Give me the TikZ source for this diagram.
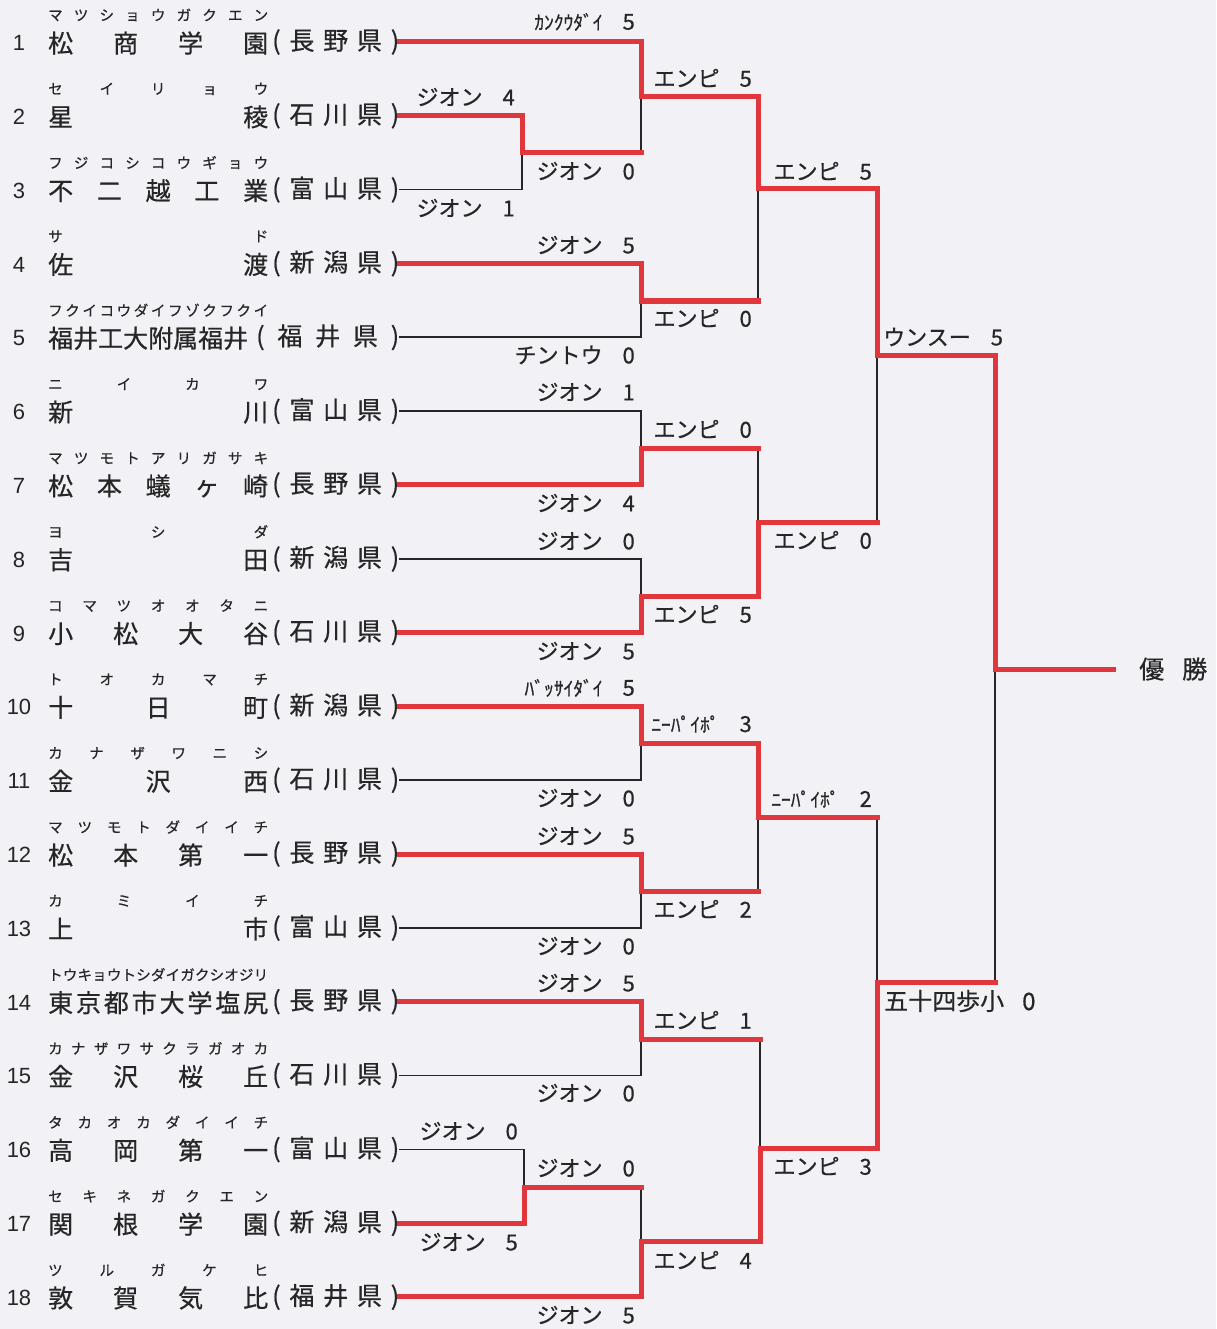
\documentclass[tikz,border=0pt]{standalone}
\usepackage{fontspec}
\setmainfont{Noto Sans CJK JP}[FakeBold=0.6]
\newfontfamily\numfont{Liberation Sans}
\definecolor{paper}{HTML}{F2F1F5}
\definecolor{winred}{HTML}{E0373D}
\definecolor{inkgray}{HTML}{262626}
% spread the letters of a word evenly over a fixed width
\def\spreadhead#1{#1\spreadrest}
\def\spreadrest#1{\ifx#1\relax\else\hfill#1\expandafter\spreadrest\fi}
\newcommand\spreadbox[2]{\edef\spreadtmp{#2}\hbox to #1{\expandafter\spreadhead\spreadtmp\relax}}
% half-width school names in the scores
\newcommand\hw[1]{{\fontsize{19.5}{19.5}\selectfont #1}}

\begin{document}
\begin{tikzpicture}[x=1pt, y=-1pt,
  loser/.style={draw=inkgray, line width=1.6pt},
  winner/.style={draw=winred, line width=5pt, line cap=rect},
  teamnum/.style={inkgray, inner sep=0pt, font=\numfont\fontsize{22}{22}\selectfont},
  rubytext/.style={inkgray, inner sep=0pt, anchor=west, font=\fontsize{14.5}{14.5}\selectfont},
  nametext/.style={inkgray, inner sep=0pt, anchor=west, font=\fontsize{25}{25}\selectfont},
  score/.style={inkgray, inner sep=0pt, anchor=east, font=\fontsize{22}{22}\selectfont}]
  \useasboundingbox (0,0) rectangle (1216,1329);
  \fill[paper] (0,0) rectangle (1216,1329);

  % Teams: number, reading, name, prefecture
  \foreach \i/\nm/\rb/\pf/\nw/\px in {1/松商学園/マツショウガクエン/長野県/220/272,2/星稜/セイリョウ/石川県/220/272,3/不二越工業/フジコシコウギョウ/富山県/220/272,4/佐渡/サド/新潟県/220/272,5/福井工大附属福井/フクイコウダイフゾクフクイ/福井県/200/256,6/新川/ニイカワ/富山県/220/272,7/松本蟻ヶ崎/マツモトアリガサキ/長野県/220/272,8/吉田/ヨシダ/新潟県/220/272,9/小松大谷/コマツオオタニ/石川県/220/272,10/十日町/トオカマチ/新潟県/220/272,11/金沢西/カナザワニシ/石川県/220/272,12/松本第一/マツモトダイイチ/長野県/220/272,13/上市/カミイチ/富山県/220/272,14/東京都市大学塩尻/トウキョウトシダイガクシオジリ/長野県/220/272,15/金沢桜丘/カナザワサクラガオカ/石川県/220/272,16/高岡第一/タカオカダイイチ/富山県/220/272,17/関根学園/セキネガクエン/新潟県/220/272,18/敦賀気比/ツルガケヒ/福井県/220/272} {
    \pgfmathsetmacro\yy{42+(\i-1)*73.82}
    \pgfmathsetmacro\pw{399-\px}
    \node[teamnum] (num\i) at (19,\yy+1) {\i};
    \node[rubytext] (rb\i) at (48,\yy-27) {\spreadbox{220pt}{\rb}};
    \node[nametext] (nm\i) at (48,\yy+1) {\spreadbox{\nw pt}{\nm}};
    \node[nametext] (pf\i) at (\px,\yy) {\spreadbox{\pw pt}{(\pf)}};
  }

  % Match points
  \coordinate (q1) at (522,153);
  \coordinate (q2) at (524,1187);
  \coordinate (r1) at (641,97);
  \coordinate (r2) at (641,301);
  \coordinate (r3) at (641,448);
  \coordinate (r4) at (641,596);
  \coordinate (r5) at (641,743);
  \coordinate (r6) at (641,891);
  \coordinate (r7) at (641,1039);
  \coordinate (r8) at (641,1241);
  \coordinate (s1) at (758,189);
  \coordinate (s2) at (758,522);
  \coordinate (s3) at (758,817);
  \coordinate (s4) at (760,1148);
  \coordinate (f1) at (877,355);
  \coordinate (f2) at (877,982);
  \coordinate (fin) at (995,669);
  \coordinate (win) at (1113,669);

  % Bracket lines
  \draw[loser] (pf2.east) -| (q1) |- (pf3.east);
  \draw[loser] (pf1.east) -| (r1) |- (q1);
  \draw[loser] (pf4.east) -| (r2) |- (pf5.east);
  \draw[loser] (r1) -| (s1) |- (r2);
  \draw[loser] (pf6.east) -| (r3) |- (pf7.east);
  \draw[loser] (pf8.east) -| (r4) |- (pf9.east);
  \draw[loser] (r3) -| (s2) |- (r4);
  \draw[loser] (s1) -| (f1) |- (s2);
  \draw[loser] (pf10.east) -| (r5) |- (pf11.east);
  \draw[loser] (pf12.east) -| (r6) |- (pf13.east);
  \draw[loser] (r5) -| (s3) |- (r6);
  \draw[loser] (pf14.east) -| (r7) |- (pf15.east);
  \draw[loser] (pf16.east) -| (q2) |- (pf17.east);
  \draw[loser] (q2) -| (r8) |- (pf18.east);
  \draw[loser] (r7) -| (s4) |- (r8);
  \draw[loser] (s3) -| (f2) |- (s4);
  \draw[loser] (f1) -| (fin) |- (f2);

  % Winners in red
  \draw[winner] (pf2.east) -| (q1);
  \draw[winner] (pf1.east) -| (r1);
  \draw[winner] (pf4.east) -| (r2);
  \draw[winner] (r1) -| (s1);
  \draw[winner] (pf7.east) -| (r3);
  \draw[winner] (pf9.east) -| (r4);
  \draw[winner] (r4) -| (s2);
  \draw[winner] (s1) -| (f1);
  \draw[winner] (pf10.east) -| (r5);
  \draw[winner] (pf12.east) -| (r6);
  \draw[winner] (r5) -| (s3);
  \draw[winner] (pf14.east) -| (r7);
  \draw[winner] (pf17.east) -| (q2);
  \draw[winner] (pf18.east) -| (r8);
  \draw[winner] (r8) -| (s4);
  \draw[winner] (s4) -| (f2);
  \draw[winner] (f1) -| (fin);
  \draw[winner] (fin) -- (win);
  % red lead-ins of the losing match winners
  \foreach \a/\b in {q1/r1, r2/s1, r3/s2, s2/f1, r6/s3, q2/r8, r7/s4, s3/f2, f2/fin}
    \draw[winner] (\a) -- (\a -| \b);

  % Scores
  \foreach \x/\y/\t/\d [count=\k] in {515/97/ジオン/4,515/208/ジオン/1,635/22/\hw{ｶﾝｸｳﾀﾞｲ}/5,635/171/ジオン/0,635/245/ジオン/5,635/355/チントウ/0,635/392/ジオン/1,635/503/ジオン/4,635/541/ジオン/0,635/651/ジオン/5,635/688/\hw{ﾊﾞｯｻｲﾀﾞｲ}/5,635/798/ジオン/0,635/836/ジオン/5,635/946/ジオン/0,635/983/ジオン/5,635/1093/ジオン/0,518/1131/ジオン/0,518/1242/ジオン/5,635/1168/ジオン/0,635/1315/ジオン/5,752/78/エンピ/5,752/318/エンピ/0,752/429/エンピ/0,752/614/エンピ/5,752/724/\hw{ﾆｰﾊﾟｲﾎﾟ}/3,752/909/エンピ/2,752/1020/エンピ/1,752/1260/エンピ/4,872/171/エンピ/5,872/540/エンピ/0,872/799/\hw{ﾆｰﾊﾟｲﾎﾟ}/2,872/1166/エンピ/3}
    \node[score] (sc\k) at (\x,\y) {\t\hspace{20pt}\d};
  \node[score, anchor=west] (sc33) at (883,337) {ウンスー\hspace{20pt}5};
  \node[score, anchor=west, font=\fontsize{24}{24}\selectfont] (sc34) at (884,1001) {五十四歩小\hspace{18pt}0};

  % Champion
  \node[nametext] (champ) at (1139,669) {優\hspace{18pt}勝};
\end{tikzpicture}
\end{document}
